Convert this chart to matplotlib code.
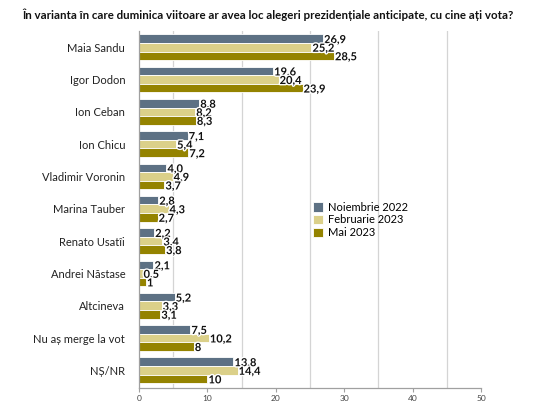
import numpy as np
import matplotlib
matplotlib.use("Agg")
import matplotlib.pyplot as plt
import matplotlib.patheffects as pe

plt.rcParams["font.family"] = ["Lato", "DejaVu Sans"]

title = "În varianta în care duminica viitoare ar avea loc alegeri prezidențiale anticipate, cu cine ați vota?"
categories = ["Maia Sandu", "Igor Dodon", "Ion Ceban", "Ion Chicu", "Vladimir Voronin",
              "Marina Tauber", "Renato Usatîi", "Andrei Năstase", "Altcineva",
              "Nu aș merge la vot", "NȘ/NR"]
series_names = ["Noiembrie 2022", "Februarie 2023", "Mai 2023"]
# values as printed on the chart (decimal comma)
nov_2022 = ["26,9", "19,6", "8,8", "7,1", "4,0", "2,8", "2,2", "2,1", "5,2", "7,5", "13,8"]
feb_2023 = ["25,2", "20,4", "8,2", "5,4", "4,9", "4,3", "3,4", "0,5", "3,3", "10,2", "14,4"]
mai_2023 = ["28,5", "23,9", "8,3", "7,2", "3,7", "2,7", "3,8", "1", "3,1", "8", "10"]
colors = ["#5d7184", "#dbd089", "#948300"]
x_ticks = [0, 10, 20, 30, 40, 50]
grid_at = [5, 15, 25, 35, 45]

fig = plt.figure(figsize=(5.35, 4.2), dpi=100)
ax = fig.add_axes([0.260, 0.076, 0.639, 0.850])

y = np.arange(len(categories))
h = 0.265
for i, (name, vals) in enumerate(zip(series_names, [nov_2022, feb_2023, mai_2023])):
    nums = [float(v.replace(",", ".")) for v in vals]
    pos = y + (i - 1) * h
    ax.barh(pos, nums, height=h, color=colors[i], edgecolor="white", linewidth=0.6,
            label=name, zorder=2)
    for p, n, s in zip(pos, nums, vals):
        ax.text(n + 0.15, p + 0.03, s, va="center", ha="left", fontsize=8,
                fontweight="bold", color="#111111", zorder=4,
                path_effects=[pe.withStroke(linewidth=2, foreground="white")])

ax.set_xlim(0, 50)
ax.set_ylim(len(categories) - 0.45, -0.5)
ax.set_xticks(x_ticks)
ax.set_xticklabels([str(t) for t in x_ticks], fontsize=6, color="#444444")
ax.set_yticks(y)
ax.set_yticklabels(categories, fontsize=8, color="#222222")
ax.tick_params(axis="y", length=0, pad=10)
ax.tick_params(axis="x", length=3, color="#a0a0a0", pad=2)
for gx in grid_at:
    ax.axvline(gx, color="#d4d4d4", linewidth=0.9, zorder=1)
for side in ["top", "right"]:
    ax.spines[side].set_visible(False)
for side in ["left", "bottom"]:
    ax.spines[side].set_color("#a0a0a0")
    ax.spines[side].set_linewidth(0.9)

fig.legend(loc="upper left", bbox_to_anchor=(0.570, 0.538), frameon=False,
           fontsize=8, handlelength=0.9, handleheight=0.9, handletextpad=0.5,
           labelspacing=0.15, borderpad=0.2)

fig.text(0.5, 0.966, title, ha="center", va="center", fontsize=8.3, fontweight="bold",
         color="#111111")

fig.savefig("out.png", dpi=100)
